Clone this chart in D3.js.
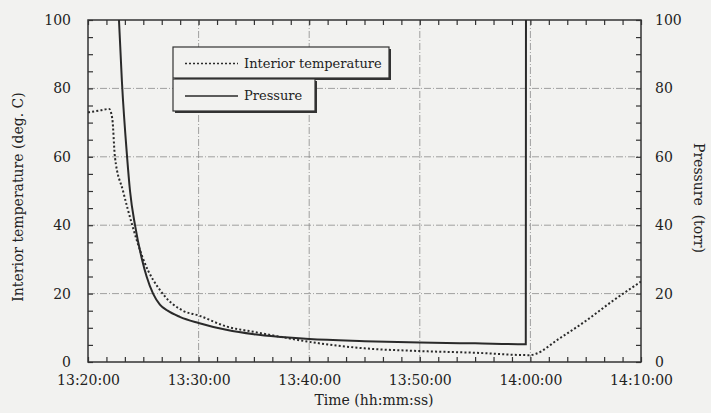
<!DOCTYPE html>
<html>
<head>
<meta charset="utf-8">
<script src="https://cdn.jsdelivr.net/npm/d3@7"></script>
<style>
  body { margin: 0; background: #f2f2f0; }
  text { font-family: "DejaVu Serif", serif; fill: #222; }
</style>
</head>
<body>
<div id="chart"></div>
<script>
// Data
var pressureTimes = ["13:22:48", "13:23:04", "13:23:32", "13:23:48", "13:24:15", "13:24:53", "13:25:18",
	"13:25:53", "13:26:30", "13:27:12", "13:28:18", "13:30:00", "13:32:30", "13:35:00", "13:37:30",
	"13:40:00", "13:45:00", "13:50:00", "13:55:00", "13:59:35", "13:59:36"];
var pressureValues = [100, 82, 60, 50, 40, 30, 25, 20, 16.8, 15.0, 13.2, 11.4, 9.4, 8.1, 7.3, 6.7, 6.1,
	5.7, 5.45, 5.2, 100];

var tempTimes = ["13:20:00", "13:21:00", "13:21:55", "13:22:12", "13:22:26", "13:23:10", "13:24:00",
	"13:25:00", "13:26:45", "13:28:35", "13:30:00", "13:32:30", "13:35:00", "13:37:30", "13:40:00",
	"13:42:30", "13:45:00", "13:50:00", "13:55:00", "14:00:00", "14:00:30", "14:02:30", "14:05:00",
	"14:07:30", "14:10:00"];
var tempValues = [73, 73.5, 74, 71, 60, 50, 40, 30, 20, 15, 13.6, 10.4, 8.8, 7.3, 5.9, 4.8, 4.0, 3.2,
	2.7, 2.0, 2.4, 6.6, 12, 18, 23.5];

var xTickLabels = ["13:20:00", "13:30:00", "13:40:00", "13:50:00", "14:00:00", "14:10:00"];
var yTicks = [0, 20, 40, 60, 80, 100];
var legendLabels = ["Interior temperature", "Pressure"];

// Geometry
var W = 711, H = 413;
var margin = {left: 88, right: 70, top: 20, bottom: 51};

var parse = d3.timeParse("%H:%M:%S");
var fmt = d3.timeFormat("%H:%M:%S");

var svg = d3.select("#chart").append("svg")
	.attr("width", W)
	.attr("height", H);

var x = d3.scaleTime()
	.domain([parse(xTickLabels[0]), parse(xTickLabels[xTickLabels.length - 1])])
	.range([margin.left, W - margin.right]);
var yL = d3.scaleLinear().domain([0, 100]).range([H - margin.bottom, margin.top]);
var yR = d3.scaleLinear().domain([0, 100]).range([H - margin.bottom, margin.top]);

var x0 = margin.left, x1 = W - margin.right, y0 = H - margin.bottom, y1 = margin.top;

svg.append("defs").append("clipPath").attr("id", "plot")
	.append("rect").attr("x", x0).attr("y", y1).attr("width", x1 - x0).attr("height", y0 - y1);

// Grid (dash-dot)
var grid = svg.append("g").attr("stroke", "#8a8a8a").attr("stroke-width", 0.8)
	.attr("stroke-dasharray", "7,2,1,2");
grid.selectAll(".gy").data(yTicks.slice(1, -1)).enter().append("line")
	.attr("x1", x0).attr("x2", x1)
	.attr("y1", function(d) { return yL(d); })
	.attr("y2", function(d) { return yL(d); });
grid.selectAll(".gx").data(xTickLabels.slice(1, -1)).enter().append("line")
	.attr("y1", y0).attr("y2", y1)
	.attr("x1", function(d) { return x(parse(d)); })
	.attr("x2", function(d) { return x(parse(d)); });

// Minor ticks (inward) every 100 s on x, every 5 units on y
var minorX = d3.range(0, 50 * 60 + 1, 100).map(function(s) { return new Date(+parse(xTickLabels[0]) + s * 1000); });
var minorY = d3.range(0, 101, 5);
var tickLen = 5;
svg.append("g").attr("transform", "translate(0," + y0 + ")")
	.call(d3.axisBottom(x).tickValues(minorX).tickSizeInner(-tickLen).tickSizeOuter(0).tickFormat(""));
svg.append("g").attr("transform", "translate(0," + y1 + ")")
	.call(d3.axisTop(x).tickValues(minorX).tickSizeInner(-tickLen).tickSizeOuter(0).tickFormat(""));
svg.append("g").attr("transform", "translate(" + x0 + ",0)")
	.call(d3.axisLeft(yL).tickValues(minorY).tickSizeInner(-tickLen).tickSizeOuter(0).tickFormat(""));
svg.append("g").attr("transform", "translate(" + x1 + ",0)")
	.call(d3.axisRight(yR).tickValues(minorY).tickSizeInner(-tickLen).tickSizeOuter(0).tickFormat(""));
svg.selectAll(".domain").remove();
svg.selectAll(".tick line").attr("stroke", "#333").attr("stroke-width", 1.2);

// Tick labels
svg.append("g").attr("transform", "translate(0," + y0 + ")")
	.call(d3.axisBottom(x).tickValues(xTickLabels.map(parse)).tickSize(0).tickPadding(13).tickFormat(fmt))
	.call(function(g) { g.select(".domain").remove(); })
	.selectAll("text").attr("font-size", "14px").attr("font-family", "DejaVu Serif").attr("fill", "#222");
svg.append("g").attr("transform", "translate(" + x0 + ",0)")
	.call(d3.axisLeft(yL).tickValues(yTicks).tickSize(0).tickPadding(17))
	.call(function(g) { g.select(".domain").remove(); })
	.selectAll("text").attr("font-size", "14px").attr("font-family", "DejaVu Serif").attr("fill", "#222");
svg.append("g").attr("transform", "translate(" + x1 + ",0)")
	.call(d3.axisRight(yR).tickValues(yTicks).tickSize(0).tickPadding(14))
	.call(function(g) { g.select(".domain").remove(); })
	.selectAll("text").attr("font-size", "14px").attr("font-family", "DejaVu Serif").attr("fill", "#222");

// Frame
svg.append("rect").attr("x", x0).attr("y", y1).attr("width", x1 - x0).attr("height", y0 - y1)
	.attr("fill", "none").attr("stroke", "#333").attr("stroke-width", 1.5);

// Lines
var tempData = tempTimes.map(function(t, i) { return {t: parse(t), v: tempValues[i]}; });
var presData = pressureTimes.map(function(t, i) { return {t: parse(t), v: pressureValues[i]}; });

var lineL = d3.line().x(function(d) { return x(d.t); }).y(function(d) { return yL(d.v); }).curve(d3.curveMonotoneX);
var lineP = d3.line().x(function(d) { return x(d.t); }).y(function(d) { return yR(d.v); }).curve(d3.curveMonotoneX);

var plot = svg.append("g").attr("clip-path", "url(#plot)");
plot.append("path").datum(presData)
	.attr("d", lineP)
	.attr("fill", "none").attr("stroke", "#2a2a2a").attr("stroke-width", 2);
plot.append("path").datum(tempData)
	.attr("d", lineL)
	.attr("fill", "none").attr("stroke", "#2a2a2a").attr("stroke-width", 2)
	.attr("stroke-dasharray", "2,2.2");

// Legend
var bg = "#f2f2f0";
var legend = svg.append("g");
var boxes = [
	{x: 173, y: 47, w: 216, h: 31},
	{x: 173, y: 79, w: 142, h: 32}
];
legend.selectAll(".shadow").data(boxes).enter().append("rect")
	.attr("x", function(d) { return d.x + 2; }).attr("y", function(d) { return d.y + 2; })
	.attr("width", function(d) { return d.w; }).attr("height", function(d) { return d.h; })
	.attr("fill", "#333");
legend.selectAll(".box").data(boxes).enter().append("rect")
	.attr("x", function(d) { return d.x; }).attr("y", function(d) { return d.y; })
	.attr("width", function(d) { return d.w; }).attr("height", function(d) { return d.h; })
	.attr("fill", bg).attr("stroke", "#333").attr("stroke-width", 1.2);
legend.selectAll(".ll").data(boxes).enter().append("line")
	.attr("x1", 185).attr("x2", 238)
	.attr("y1", function(d) { return d.y + d.h / 2 + 1; })
	.attr("y2", function(d) { return d.y + d.h / 2 + 1; })
	.attr("stroke", "#2a2a2a").attr("stroke-width", 1.5)
	.attr("stroke-dasharray", function(d, i) { return i === 0 ? "2,2" : null; });
legend.selectAll(".lt").data(boxes).enter().append("text")
	.attr("x", 244)
	.attr("y", function(d) { return d.y + d.h / 2 + 5; })
	.attr("font-size", "13px")
	.text(function(d, i) { return legendLabels[i]; });

// Axis titles
svg.append("text")
	.attr("transform", "translate(23," + ((y0 + y1) / 2 + 6) + ") rotate(-90)")
	.attr("text-anchor", "middle").attr("font-size", "14px")
	.text("Interior temperature (deg. C)");
svg.append("text")
	.attr("transform", "translate(694," + ((y0 + y1) / 2 + 7) + ") rotate(90)")
	.attr("text-anchor", "middle").attr("font-size", "14px")
	.attr("xml:space", "preserve")
	.text("Pressure  (torr)");
svg.append("text")
	.attr("x", 374).attr("y", 405)
	.attr("text-anchor", "middle").attr("font-size", "14px")
	.text("Time (hh:mm:ss)");
</script>
</body>
</html>
